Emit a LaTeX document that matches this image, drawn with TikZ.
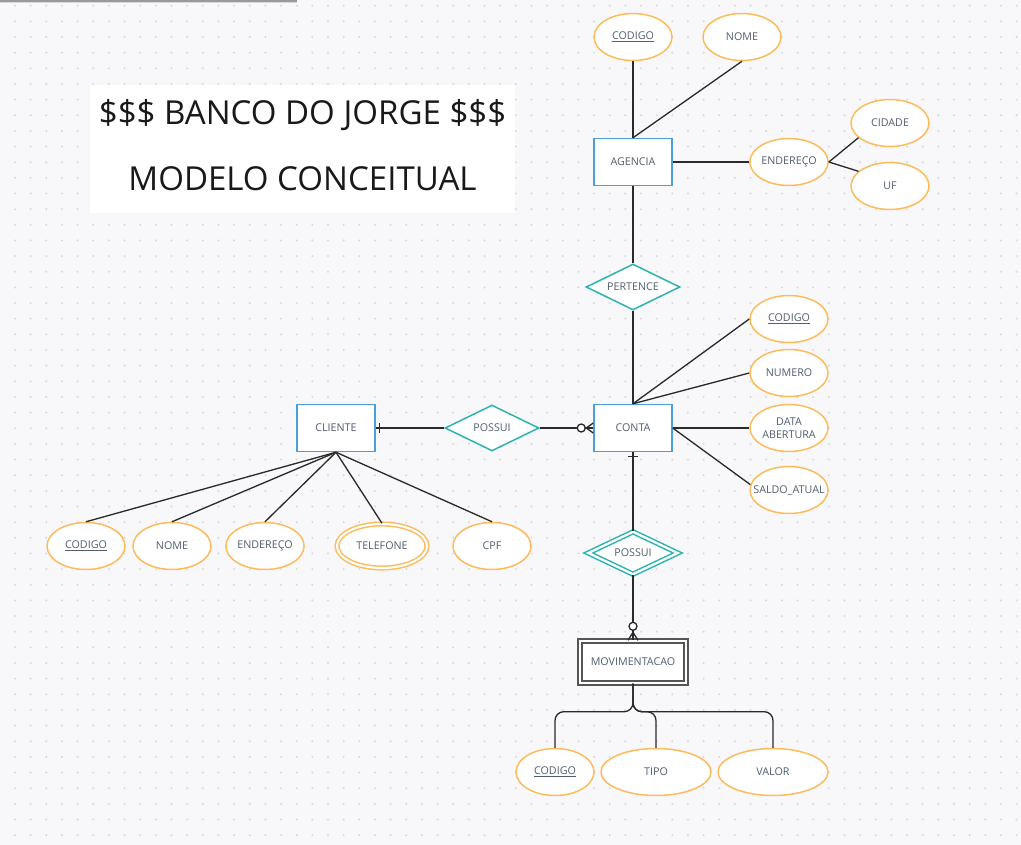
\documentclass[tikz,border=0pt]{standalone}
\usepackage{fontspec}
\setmainfont{Open Sans}
\usepackage{tikz}
\usetikzlibrary{shapes.geometric,calc}

\definecolor{entblue}{HTML}{4A9EDD}
\definecolor{relteal}{HTML}{2BB3AE}
\definecolor{attorange}{HTML}{FDBB5C}
\definecolor{txtgray}{HTML}{525E70}
\definecolor{linedark}{HTML}{2A2A2A}
\definecolor{canvasbg}{HTML}{F8F8FA}
\definecolor{dotgray}{HTML}{D9DADF}
\definecolor{weakgray}{HTML}{555555}

\newcommand{\ernodefont}{\fontsize{6.1}{7.6}\selectfont}

\begin{document}
\begin{tikzpicture}[x=0.02cm, y=-0.02cm,
            entity/.style={rectangle, draw=entblue, line width=0.85pt, fill=white,
            minimum width=1.56cm, minimum height=0.94cm, inner sep=0pt, text=txtgray, font=\ernodefont},
            weak/.style={rectangle, draw=weakgray, line width=0.8pt, double=white, double distance=1.6pt,
            fill=white, minimum width=2.12cm, minimum height=0.84cm, inner sep=0pt, text=txtgray, font=\ernodefont},
            relation/.style={diamond, aspect=2, draw=relteal, line width=0.85pt, fill=white,
            minimum width=1.88cm, minimum height=0.92cm, inner sep=0pt, text=txtgray, font=\ernodefont},
            idrelation/.style={relation, double=white, double distance=1.3pt, minimum width=1.8cm, minimum height=0.86cm},
            attrib/.style={ellipse, draw=attorange, line width=0.85pt, fill=white,
            minimum width=1.56cm, minimum height=0.94cm, inner sep=0pt, text=txtgray, font=\ernodefont, align=center},
            wideattrib/.style={attrib, minimum width=2.2cm},
            multiattr/.style={attrib, double=white, double distance=1.2pt, minimum width=1.8cm, minimum height=0.88cm},
            link/.style={draw=linedark, line width=0.75pt},
            titlebox/.style={rectangle, fill=white, minimum width=8.5cm, minimum height=2.56cm,
            align=center, text=black!90, font=\fontsize{18.8}{37.5}\selectfont}]

            % fundo pontilhado
            \fill[canvasbg] (0,0) rectangle (1021,845);
            \useasboundingbox (0,0) rectangle (1021,845);
            \foreach \i in {0,...,65}{
                \foreach \j in {0,...,53}{
                    \fill[dotgray] (15+15.65*\i, 5.7+15.65*\j) circle (0.65pt);
                }
            }
            \fill[black!40] (0,0) rectangle (297,1.6);
            \fill[black!15] (0,1.6) rectangle (297,3);

            \node (titulo) [titlebox] at (302.5,149) {};
            \node (titulotxt) [align=center, text=black!90, font=\fontsize{18.8}{37.5}\selectfont]
                at ($(titulo.center)+(0,-4)$) {\$\$\$ BANCO DO JORGE \$\$\$\\MODELO CONCEITUAL};

            % entidades
            \node (agencia) [entity] at (633,162) {AGENCIA};
            \node (cliente) [entity] at (336,428) {CLIENTE};
            \node (conta) [entity] at (633,428) {CONTA};
            \node (movimentacao) [weak] at (633,662) {MOVIMENTACAO};

            % relacionamentos
            \node (pertence) [relation] at (633,287) {PERTENCE};
            \node (possuicc) [relation] at (492,428) {POSSUI};
            \node (possuimov) [idrelation] at (633,553) {POSSUI};

            % atributos agencia
            \node (agcodigo) [attrib] at (633,37) {\underline{CODIGO}};
            \node (agnome) [attrib] at (742,37) {NOME};
            \node (agendereco) [attrib] at (789,162) {ENDEREÇO};
            \node (agcidade) [attrib] at (890,123) {CIDADE};
            \node (aguf) [attrib] at (890,186) {UF};

            % atributos conta
            \node (ctcodigo) [attrib] at (789,319) {\underline{CODIGO}};
            \node (ctnumero) [attrib] at (789,373) {NUMERO};
            \node (ctdata) [attrib] at (789,428) {DATA\\ABERTURA};
            \node (ctsaldo) [attrib] at (789,490) {\makebox[0pt]{SALDO\_ATUAL}};

            % atributos cliente
            \node (clcodigo) [attrib] at (86,546) {\underline{CODIGO}};
            \node (clnome) [attrib] at (172,546) {NOME};
            \node (clendereco) [attrib] at (265,546) {ENDEREÇO};
            \node (cltelefone) [multiattr] at (382,546) {TELEFONE};
            \node (clcpf) [attrib] at (492,546) {CPF};

            % atributos movimentacao
            \node (mvcodigo) [attrib] at (555,772) {\underline{CODIGO}};
            \node (mvtipo) [wideattrib] at (656,772) {TIPO};
            \node (mvvalor) [wideattrib] at (773,772) {VALOR};

            % ligacoes
            \draw[link] (agencia.north) -- (agcodigo.south);
            \draw[link] (agencia.north) -- (agnome.south);
            \draw[link] (agencia.east) -- (agendereco.west);
            \draw[link] (agendereco.east) -- (agcidade.205);
            \draw[link] (agendereco.east) -- (aguf.155);
            \draw[link] (agencia.south) -- (pertence.north);
            \draw[link] (pertence.south) -- (conta.north);

            \draw[link] (conta.north) -- (ctcodigo.west);
            \draw[link] (conta.north) -- (ctnumero.west);
            \draw[link] (conta.east) -- (ctdata.west);
            \draw[link] (conta.east) -- (ctsaldo.172);

            \foreach \a in {clcodigo,clnome,clendereco,cltelefone,clcpf}
                \draw[link] (cliente.south) -- (\a.north);

            \draw[link] (cliente.east) -- (possuicc.west);
            \draw[link] (possuicc.east) -- (conta.west);
            \draw[link] ($(cliente.east)+(4,-5)$) -- ($(cliente.east)+(4,5)$);
            \draw[link, fill=white] ($(conta.west)+(-12,0)$) circle (4);
            \draw[link] ($(conta.west)+(0,-5)$) -- ($(conta.west)+(-7,0)$) -- ($(conta.west)+(0,5)$);

            \draw[link] (conta.south) -- (possuimov.north);
            \draw[link] ($(conta.south)+(-5,4)$) -- ($(conta.south)+(5,4)$);
            \draw[link] (possuimov.south) -- (movimentacao.north);
            \draw[link, fill=white] ($(movimentacao.north)+(0,-14)$) circle (4);
            \draw[link] ($(movimentacao.north)+(-5,0)$) -- ($(movimentacao.north)+(0,-8)$) -- ($(movimentacao.north)+(5,0)$);

            \foreach \a in {mvcodigo,mvtipo,mvvalor}
                \draw[link, rounded corners=5] (movimentacao.south) -- ++(0,28) -| (\a.north);
        \end{tikzpicture}
\end{document}
